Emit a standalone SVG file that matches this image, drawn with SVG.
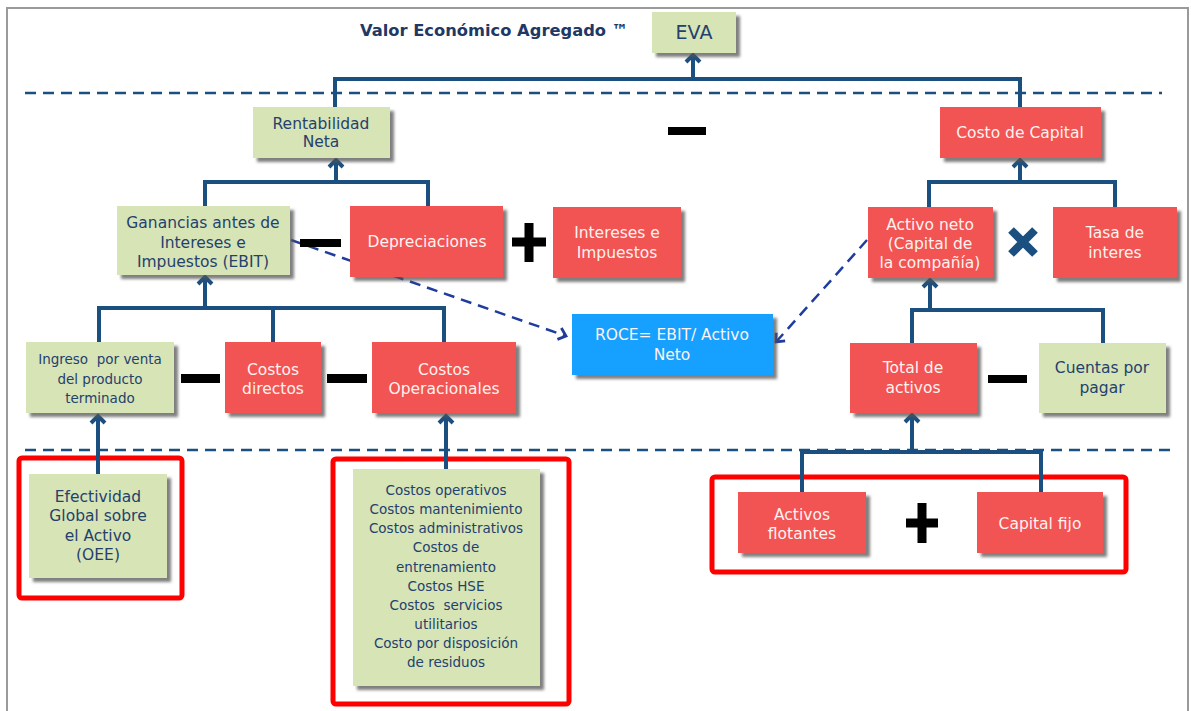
<svg xmlns="http://www.w3.org/2000/svg" width="1191" height="711" viewBox="0 0 1191 711">
  <defs>
    <style>
      text { font-family: "DejaVu Sans", "Liberation Sans", sans-serif; text-anchor: middle; }
      .g { fill: #d7e4b5; filter: url(#sh); }
      .r { fill: #f25353; filter: url(#sh); }
      .b { fill: #18a0ff; filter: url(#sh); }
      .tg { fill: #24416e; font-size: 15.5px; }
      .tr { fill: #fff2ef; font-size: 15.5px; }
      .sm { font-size: 13.5px; }
      .conn { fill: none; stroke: #1b4f80; stroke-width: 4; stroke-linejoin: miter; }
      .arr { marker-end: url(#ah); }
      .sep { stroke: #1b4f80; stroke-width: 2.5; stroke-dasharray: 11 7; }
      .dash { fill: none; stroke: #1f3c9e; stroke-width: 2.5; stroke-dasharray: 11 7; marker-end: url(#dh); }
      .frame { fill: none; stroke: #ff0000; stroke-width: 5; }
      .op { fill: #000; }
    </style>
    <filter id="sh" x="-10%" y="-10%" width="130%" height="140%">
      <feDropShadow dx="4" dy="4" stdDeviation="1.6" flood-color="#555" flood-opacity="0.75"/>
    </filter>
    <marker id="ah" markerUnits="userSpaceOnUse" markerWidth="20" markerHeight="20" refX="10" refY="10" orient="auto" viewBox="0 0 20 20">
      <path d="M3,3 L10,10 L3,17" fill="none" stroke="#1b4f80" stroke-width="4"/>
    </marker>
    <marker id="dh" markerUnits="userSpaceOnUse" markerWidth="16" markerHeight="16" refX="9" refY="8" orient="auto" viewBox="0 0 16 16">
      <path d="M2,2 L9,8 L2,14" fill="none" stroke="#1f3c9e" stroke-width="2.8"/>
    </marker>
  </defs>

  <rect width="1191" height="711" fill="#ffffff"/>
  <!-- outer frame -->
  <path d="M7,711 V8 H1188 V711" fill="none" stroke="#9a9a9a" stroke-width="2"/>

  <!-- title -->
  <text x="494" y="36" textLength="268" lengthAdjust="spacingAndGlyphs" style="font-size:16.5px;font-weight:bold;fill:#1f3864">Valor Económico Agregado ™</text>

  <!-- separator lines -->
  <line class="sep" x1="25" y1="93" x2="1162" y2="93"/>
  <line class="sep" x1="25" y1="450" x2="1172" y2="450"/>

  <!-- highlight frames -->
  <rect class="frame" x="19" y="458" width="163" height="140" rx="3"/>
  <rect class="frame" x="333" y="459" width="236" height="245" rx="3"/>
  <rect class="frame" x="712" y="477" width="414" height="95" rx="3"/>

  <!-- connectors -->
  <g id="connectors">
    <path class="conn" d="M335,110 V79 H1020 V107"/>
    <path class="conn arr" d="M693,79 V55"/>
    <path class="conn" d="M205,207 V182 H428 V207"/>
    <path class="conn arr" d="M336,182 V160"/>
    <path class="conn" d="M99,343 V308 H444 V343 M273,308 V343"/>
    <path class="conn arr" d="M205,308 V277"/>
    <path class="conn arr" d="M98,475 V416"/>
    <path class="conn arr" d="M446,470 V416"/>
    <path class="conn" d="M929,208 V182 H1115 V208"/>
    <path class="conn arr" d="M1020,182 V160"/>
    <path class="conn" d="M912,344 V310 H1103 V344"/>
    <path class="conn arr" d="M930,310 V280"/>
    <path class="conn" d="M802,493 V452 H1041 V493"/>
    <path class="conn arr" d="M912,452 V415"/>
    <path class="dash" d="M291,240 L566,336"/>
    <path class="dash" d="M867,240 L776,342"/>
  </g>

  <!-- operators -->
  <g id="operators">
    <rect class="op" x="668" y="127" width="38" height="8"/>
    <rect class="op" x="300" y="239" width="41" height="8"/>
    <path d="M512,242 H546 M529,223 V262" stroke="#000" stroke-width="9"/>
    <path d="M1011,230 L1035,254 M1035,230 L1011,254" stroke="#1b4f80" stroke-width="8"/>
    <rect class="op" x="181" y="374" width="39" height="9"/>
    <rect class="op" x="327" y="374" width="40" height="9"/>
    <rect class="op" x="988" y="375" width="39" height="8"/>
    <path d="M906,523 H938 M922,503 V543" stroke="#000" stroke-width="9"/>
  </g>

  <g id="eva">
    <rect class="g" x="652" y="12" width="84" height="41"/>
    <text class="tg" x="694" y="39" style="font-size:19px">EVA</text>
  </g>
  <g id="rentabilidad">
    <rect class="g" x="253" y="107" width="137" height="51"/>
    <text class="tg" x="321" y="129">Rentabilidad</text>
    <text class="tg" x="321" y="147">Neta</text>
  </g>
  <g id="costo-capital">
    <rect class="r" x="940" y="107" width="161" height="51"/>
    <text class="tr" x="1020" y="138">Costo de Capital</text>
  </g>
  <g id="ebit">
    <rect class="g" x="117" y="206" width="173" height="69"/>
    <text class="tg" x="203" y="228">Ganancias antes de</text>
    <text class="tg" x="203" y="248">Intereses e</text>
    <text class="tg" x="203" y="267">Impuestos (EBIT)</text>
  </g>
  <g id="depreciaciones">
    <rect class="r" x="350" y="206" width="153" height="71"/>
    <text class="tr" x="427" y="247">Depreciaciones</text>
  </g>
  <g id="intereses">
    <rect class="r" x="553" y="207" width="128" height="71"/>
    <text class="tr" x="617" y="238">Intereses e</text>
    <text class="tr" x="617" y="258">Impuestos</text>
  </g>
  <g id="activo-neto">
    <rect class="r" x="868" y="207" width="125" height="71"/>
    <text class="tr" x="930" y="230">Activo neto</text>
    <text class="tr" x="930" y="249">(Capital de</text>
    <text class="tr" x="930" y="268">la compañía)</text>
  </g>
  <g id="tasa">
    <rect class="r" x="1053" y="207" width="124" height="71"/>
    <text class="tr" x="1115" y="238">Tasa de</text>
    <text class="tr" x="1115" y="258">interes</text>
  </g>
  <g id="roce">
    <rect class="b" x="572" y="314" width="201" height="61"/>
    <text class="tr" x="672" y="340">ROCE= EBIT/ Activo</text>
    <text class="tr" x="672" y="360">Neto</text>
  </g>
  <g id="ingreso">
    <rect class="g" x="26" y="342" width="148" height="71"/>
    <text class="tg sm" x="100" y="364" xml:space="preserve">Ingreso  por venta</text>
    <text class="tg sm" x="100" y="384">del producto</text>
    <text class="tg sm" x="100" y="403">terminado</text>
  </g>
  <g id="costos-directos">
    <rect class="r" x="225" y="342" width="96" height="71"/>
    <text class="tr" x="273" y="375">Costos</text>
    <text class="tr" x="273" y="394">directos</text>
  </g>
  <g id="costos-operacionales">
    <rect class="r" x="372" y="342" width="144" height="71"/>
    <text class="tr" x="444" y="375">Costos</text>
    <text class="tr" x="444" y="394">Operacionales</text>
  </g>
  <g id="total-activos">
    <rect class="r" x="850" y="343" width="127" height="70"/>
    <text class="tr" x="913" y="373">Total de</text>
    <text class="tr" x="913" y="393">activos</text>
  </g>
  <g id="cuentas">
    <rect class="g" x="1039" y="343" width="127" height="70"/>
    <text class="tg" x="1102" y="373">Cuentas por</text>
    <text class="tg" x="1102" y="393">pagar</text>
  </g>
  <g id="oee">
    <rect class="g" x="29" y="474" width="138" height="104"/>
    <text class="tg" x="98" y="502">Efectividad</text>
    <text class="tg" x="98" y="521">Global sobre</text>
    <text class="tg" x="98" y="541">el Activo</text>
    <text class="tg" x="98" y="560">(OEE)</text>
  </g>
  <g id="costos-lista">
    <rect class="g" x="353" y="469" width="187" height="217"/>
    <text class="tg sm" x="446" y="495">Costos operativos</text>
    <text class="tg sm" x="446" y="514">Costos mantenimiento</text>
    <text class="tg sm" x="446" y="533">Costos administrativos</text>
    <text class="tg sm" x="446" y="552">Costos de</text>
    <text class="tg sm" x="446" y="572">entrenamiento</text>
    <text class="tg sm" x="446" y="591">Costos HSE</text>
    <text class="tg sm" x="446" y="610" xml:space="preserve">Costos  servicios</text>
    <text class="tg sm" x="446" y="629">utilitarios</text>
    <text class="tg sm" x="446" y="648">Costo por disposición</text>
    <text class="tg sm" x="446" y="667">de residuos</text>
  </g>
  <g id="activos-flotantes">
    <rect class="r" x="738" y="492" width="128" height="61"/>
    <text class="tr" x="802" y="520">Activos</text>
    <text class="tr" x="802" y="539">flotantes</text>
  </g>
  <g id="capital-fijo">
    <rect class="r" x="977" y="492" width="126" height="61"/>
    <text class="tr" x="1040" y="529">Capital fijo</text>
  </g>
</svg>
